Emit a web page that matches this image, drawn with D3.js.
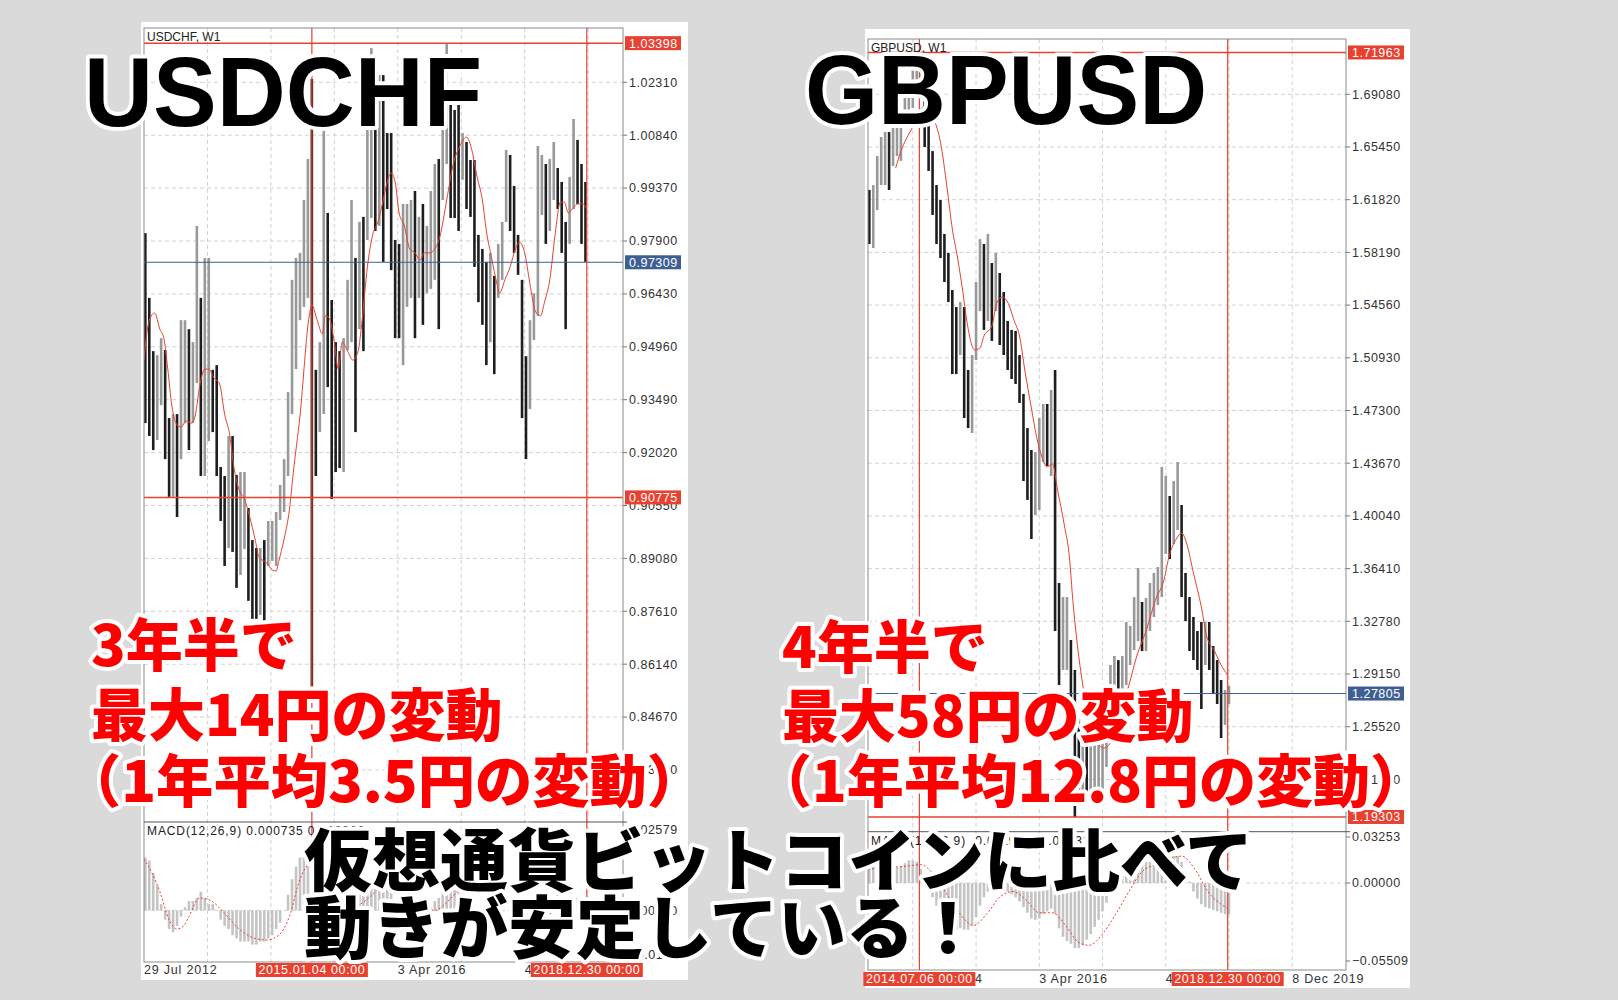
<!DOCTYPE html>
<html>
<head>
<meta charset="utf-8">
<script src="https://cdnjs.cloudflare.com/ajax/libs/d3/7.8.5/d3.min.js"></script>
<style>
  body { margin: 0; background: #dadada; }
  svg { display: block; }
  .axis-label { font-family: "Liberation Sans", Arial, sans-serif; font-size: 12.5px; fill: #333; letter-spacing: 0.5px; }
</style>
</head>
<body>
<div id="div_chart"></div>
<script>
var width = 1618, height = 1000;
var WEEK = 7 * 24 * 3600 * 1000;
var parseDay = d3.utcParse("%Y-%m-%d");

// USDCHF, 3-week bars from 29 Jul 2012 (high / low)
var usdchfStart = "2012-07-29";
var usdchfHigh = [0.9812,0.9632,0.9484,0.9473,0.9520,0.9487,0.9298,0.9309,0.9309,0.9570,
  0.9570,0.9545,0.9509,0.9832,0.9632,0.9743,0.9743,0.9432,0.9445,0.9162,
  0.9137,0.9248,0.9248,0.9140,0.9148,0.9148,0.9048,0.8959,0.8937,0.8937,
  0.8959,0.9012,0.9012,0.9037,0.9112,0.9184,0.9370,0.9682,0.9743,0.9757,
  0.9904,1.0018,1.0240,0.9432,0.9509,1.0140,0.9868,0.9626,0.9509,0.9484,
  0.9520,0.9682,0.9904,0.9743,0.9843,0.9857,1.0104,1.0326,1.0115,1.0251,
  1.0251,1.0090,1.0090,0.9793,0.9782,0.9893,0.9893,0.9904,0.9929,0.9857,
  0.9893,0.9832,0.9929,1.0004,1.0018,1.0115,1.0340,1.0179,1.0154,1.0179,
  1.0090,1.0065,1.0015,1.0015,0.9807,0.9768,0.9732,0.9757,0.9693,0.9782,
  0.9843,1.0043,1.0029,0.9943,0.9807,0.9682,0.9470,0.9570,0.9645,1.0054,
  1.0029,1.0004,1.0018,1.0065,0.9993,0.9954,0.9843,0.9968,1.0129,1.0071,
  1.0004,0.9954];
var usdchfLow = [0.9284,0.9248,0.9209,0.9237,0.9334,0.9184,0.9079,0.9079,0.9023,0.9184,
  0.9284,0.9209,0.9284,0.9395,0.9137,0.9137,0.9234,0.9259,0.9137,0.9012,
  0.8887,0.8937,0.8926,0.8826,0.8862,0.8934,0.8790,0.8740,0.8740,0.8751,
  0.8726,0.8887,0.8901,0.8887,0.9015,0.9037,0.9137,0.9309,0.9434,0.9570,
  0.9607,0.9632,0.8553,0.9137,0.9259,0.9309,0.9384,0.9073,0.9148,0.9159,
  0.9148,0.9487,0.9509,0.9259,0.9545,0.9484,0.9793,0.9854,0.9818,0.9832,
  0.9732,0.9879,0.9709,0.9520,0.9520,0.9445,0.9607,0.9632,0.9520,0.9632,
  0.9557,0.9645,0.9657,0.9682,0.9545,0.9904,1.0004,0.9854,0.9854,0.9818,
  0.9960,0.9879,0.9857,0.9718,0.9620,0.9557,0.9445,0.9509,0.9420,0.9632,
  0.9682,0.9843,0.9818,0.9757,0.9696,0.9298,0.9184,0.9323,0.9515,0.9582,
  0.9862,0.9782,0.9818,0.9904,0.9879,0.9757,0.9545,0.9782,0.9879,0.9893,
  0.9782,0.9732];
// red moving average: [week since start, price]
var usdchfMa = [[0,0.9459],[4,0.9570],[8,0.9590],[12,0.9545],[15,0.9520],[18,0.9434],[21,0.9334],
  [25,0.9279],[28,0.9273],[32,0.9290],[36,0.9284],[39,0.9309],[42,0.9384],[46,0.9434],[49,0.9434],
  [53,0.9409],[57,0.9395],[61,0.9309],[65,0.9248],[68,0.9162],[72,0.9098],[76,0.9073],[80,0.9023],
  [84,0.8962],[87,0.8912],[93,0.8895],[97,0.8876],[100,0.8873],[102,0.8901],[106,0.8962],[110,0.9043],
  [113,0.9148],[118,0.9304],[125,0.9582],[127,0.9612],[131,0.9570],[135,0.9532],[137,0.9582],
  [140,0.9576],[144,0.9509],[147,0.9434],[150,0.9509],[154,0.9484],[158,0.9459],[162,0.9484],
  [165,0.9570],[169,0.9718],[173,0.9807],[177,0.9843],[181,0.9904],[184,0.9954],[187,0.9979],
  [190,0.9954],[193,0.9868],[197,0.9832],[201,0.9768],[205,0.9757],[209,0.9737],[212,0.9757],
  [216,0.9757],[220,0.9768],[224,0.9804],[229,0.9904],[234,1.0004],[239,1.0054],[244,1.0079],
  [248,1.0043],[252,0.9968],[256,0.9904],[259,0.9818],[263,0.9743],[267,0.9671],[269,0.9645],
  [273,0.9682],[277,0.9718],[281,0.9768],[284,0.9787],[288,0.9757],[292,0.9671],[296,0.9595],
  [300,0.9582],[303,0.9620],[307,0.9682],[311,0.9807],[315,0.9898],[318,0.9898],[321,0.9868],
  [324,0.9879],[328,0.9893],[332,0.9893],[335,0.9879]];
var usdchfMacd = [0.017,0.016,0.012,0.008,0.002,-0.003,-0.006,-0.007,-0.005,-0.002,
  0.001,0.003,0.003,0.004,0.006,0.004,0.002,0.002,0.000,-0.003,
  -0.005,-0.006,-0.008,-0.009,-0.010,-0.010,-0.010,-0.011,-0.011,-0.010,
  -0.010,-0.009,-0.008,-0.006,-0.004,0.000,0.005,0.010,0.014,0.017,
  0.019,0.020,0.014,0.004,-0.002,0.000,0.002,-0.002,-0.004,-0.004,
  -0.003,0.000,0.003,0.003,0.005,0.006,0.008,0.010,0.010,0.011,
  0.010,0.009,0.007,0.003,0.001,0.000,-0.001,-0.001,-0.001,-0.001,
  0.000,0.000,0.001,0.003,0.004,0.006,0.008,0.009,0.009,0.008,
  0.007,0.005,0.003,0.000,-0.003,-0.005,-0.006,-0.007,-0.007,-0.005,
  -0.003,0.000,0.002,0.002,0.001,-0.002,-0.005,-0.007,-0.006,-0.003,
  0.000,0.002,0.003,0.004,0.005,0.004,0.003,0.003,0.004,0.004,
  0.003,0.001];
var usdchfSignal = [[0,0.0165],[6,0.012],[12,0.006],[19,-0.003],[25,-0.006],[30,-0.005],[34,-0.002],
  [42,0.004],[51,0.003],[61,-0.001],[72,-0.006],[84,-0.009],[93,-0.0095],[102,-0.008],[110,-0.002],
  [118,0.010],[126,0.015],[132,0.010],[140,0.004],[150,0.000],[160,0.001],[170,0.004],[180,0.008],
  [190,0.010],[200,0.006],[210,0.001],[220,0.000],[230,0.003],[240,0.007],[250,0.008],[260,0.003],
  [270,-0.004],[280,-0.002],[290,0.001],[300,-0.004],[310,0.000],[320,0.003],[335,0.004]];
var usdchfTicks = [1.02310,1.00840,0.99370,0.97900,0.96430,0.94960,0.93490,0.92020,0.90550,
  0.89080,0.87610,0.86140,0.84670,0.83200];
var usdchfMacdTicks = [0.02579,0.00000,-0.01433];
var usdchfLevels = [1.03398,0.90775];
var usdchfLast = 0.97309;
var usdchfMarks = ["2015-01-04","2018-12-30"];
var usdchfDates = [["2012-07-29","29 Jul 2012"],["2014-06-01","1 Jun 2014"],["2016-04-03","3 Apr 2016"],["2018-02-04","4 Feb 2018"]];

// GBPUSD, 3-week bars from 6 Oct 2013
var gbpusdStart = "2013-10-06";
var gbpusdHigh = [1.6249,1.6283,1.6483,1.6614,1.6648,1.6648,1.6683,1.6717,1.6800,1.6924,
  1.7007,1.7103,1.7196,1.7179,1.6903,1.6717,1.6517,1.6283,1.6180,1.5946,
  1.5815,1.5560,1.5443,1.5477,1.5443,1.5009,1.5112,1.5615,1.5911,1.5877,
  1.5946,1.5746,1.5815,1.5677,1.5546,1.5347,1.5285,1.5278,1.5112,1.4844,
  1.4609,1.4458,1.4444,1.4678,1.4775,1.4775,1.4871,1.5009,1.3542,1.3445,
  1.3445,1.3149,1.2943,1.2605,1.2564,1.2509,1.2474,1.2529,1.2578,1.2543,
  1.2605,1.2977,1.3039,1.3011,1.3039,1.3273,1.3246,1.3445,1.3645,1.3411,
  1.3438,1.3542,1.3611,1.3652,1.4341,1.4279,1.4141,1.4244,1.4375,1.4079,
  1.3611,1.3445,1.3308,1.3211,1.3273,1.3273,1.3273,1.3108,1.3011,1.2874,
  1.2805,1.2832];
var gbpusdLow = [1.5877,1.5849,1.6111,1.6283,1.6283,1.6249,1.6414,1.6483,1.6449,1.6786,
  1.6800,1.6814,1.6938,1.6903,1.6545,1.6380,1.6077,1.5877,1.5780,1.5615,
  1.5477,1.4981,1.4981,1.5112,1.4678,1.4609,1.4575,1.5078,1.5415,1.5285,
  1.5347,1.5209,1.5415,1.5181,1.5112,1.5009,1.4947,1.4913,1.4782,1.4244,
  1.4114,1.3845,1.4010,1.4045,1.4375,1.4348,1.4279,1.3211,1.2839,1.2943,
  1.2943,1.2736,1.1930,1.2075,1.2116,1.2040,1.2116,1.2090,1.2060,1.2100,
  1.2274,1.2605,1.2805,1.2805,1.2805,1.2839,1.2977,1.3080,1.3142,1.3073,
  1.3073,1.3211,1.3308,1.3390,1.3445,1.3742,1.3707,1.3810,1.3907,1.3445,
  1.3280,1.3073,1.3011,1.2943,1.2674,1.2977,1.2943,1.2777,1.2708,1.2474,
  1.2564,1.2708];
var gbpusdMa = [[21,1.6400],[25,1.6517],[29,1.6600],[34,1.6683],[41,1.6814],[50,1.6731],[55,1.6579],
  [60,1.6263],[64,1.5980],[68,1.5780],[72,1.5546],[75,1.5347],[81,1.5147],[85,1.5161],[88,1.5243],
  [94,1.5312],[98,1.5477],[102,1.5512],[106,1.5477],[111,1.5347],[115,1.5243],[119,1.5009],
  [124,1.4747],[128,1.4547],[132,1.4410],[136,1.4341],[140,1.4362],[144,1.4176],[149,1.3941],
  [153,1.3707],[155,1.3473],[159,1.3108],[163,1.2839],[166,1.2674],[173,1.2460],[179,1.2405],
  [184,1.2440],[189,1.2605],[197,1.2805],[204,1.3039],[211,1.3211],[219,1.3445],[224,1.3542],
  [229,1.3742],[234,1.3845],[238,1.3886],[242,1.3810],[247,1.3611],[253,1.3377],[257,1.3177],
  [263,1.3073],[268,1.2977],[273,1.2908]];
var gbpusdMacd = [0.012,0.012,0.014,0.015,0.014,0.012,0.012,0.011,0.012,0.014,
  0.016,0.016,0.015,0.010,0.004,-0.003,-0.010,-0.016,-0.022,-0.026,
  -0.030,-0.033,-0.033,-0.032,-0.033,-0.033,-0.030,-0.024,-0.016,-0.010,
  -0.006,-0.004,-0.003,-0.003,-0.004,-0.006,-0.008,-0.010,-0.013,-0.017,
  -0.021,-0.025,-0.026,-0.025,-0.022,-0.020,-0.018,-0.022,-0.032,-0.038,
  -0.041,-0.043,-0.046,-0.046,-0.044,-0.040,-0.036,-0.031,-0.026,-0.020,
  -0.014,-0.008,-0.002,0.002,0.005,0.008,0.010,0.013,0.016,0.016,
  0.015,0.015,0.016,0.017,0.020,0.021,0.020,0.019,0.019,0.015,
  0.008,0.001,-0.006,-0.011,-0.015,-0.017,-0.018,-0.019,-0.020,-0.021,
  -0.022,-0.022];
var gbpusdSignal = [[0,0.010],[30,0.012],[40,0.013],[50,0.006],[60,-0.008],[70,-0.022],[80,-0.030],
  [90,-0.022],[100,-0.010],[110,-0.006],[120,-0.012],[130,-0.021],[140,-0.021],[150,-0.030],
  [160,-0.042],[168,-0.044],[178,-0.036],[188,-0.022],[198,-0.006],[208,0.008],[218,0.013],
  [228,0.017],[238,0.019],[248,0.010],[258,-0.006],[268,-0.015],[273,-0.018]];
var gbpusdTicks = [1.69080,1.65450,1.61820,1.58190,1.54560,1.50930,1.47300,1.43670,1.40040,
  1.36410,1.32780,1.29150,1.25520,1.21890];
var gbpusdMacdTicks = [0.03253,0.00000,-0.05509];
var gbpusdLevels = [1.71963,1.19303];
var gbpusdLast = 1.27805;
var gbpusdMarks = ["2014-07-06","2018-12-30"];
var gbpusdDates = [["2014-06-01","1 Jun 2014"],["2016-04-03","3 Apr 2016"],["2018-02-04","4 Feb 2018"],["2019-12-08","8 Dec 2019"]];

var svg = d3.select("#div_chart").append("svg")
  .attr("width", width)
  .attr("height", height);

var fmt = d3.format(".5f");
var markFmt = d3.utcFormat("%Y.%m.%d 00:00");

function drawChart(c) {
  var g = svg.append("g");
  g.append("rect")
    .attr("x", c.panel[0]).attr("y", c.panel[1])
    .attr("width", c.panel[2]).attr("height", c.panel[3])
    .attr("fill", "#fff");

  var t0 = parseDay(c.start);
  var x = d3.scaleUtc()
    .domain([t0, parseDay("2018-12-30")])
    .range([c.left, c.endX]);
  var y = d3.scaleLinear().domain(c.yDomain).range([c.sep, c.top]);
  var ym = d3.scaleLinear().domain(c.mDomain).range(c.mRange);
  var wk = function(w) { return x(new Date(+t0 + w * WEEK)); };

  var clipId = "clip-" + c.name;
  g.append("clipPath").attr("id", clipId)
    .append("rect").attr("x", c.left).attr("y", c.top)
    .attr("width", c.right - c.left).attr("height", c.bottom - c.top);
  var plot = g.append("g").attr("clip-path", "url(#" + clipId + ")");

  // grid
  var gridDates = d3.range(-2, 10).map(function(k) { return new Date(+parseDay(c.gridStart) + k * 48 * WEEK); })
    .filter(function(d) { return x(d) > c.left + 2 && x(d) < c.right - 2; });
  plot.selectAll(".vgrid").data(gridDates).enter().append("line")
    .attr("x1", function(d) { return x(d); }).attr("x2", function(d) { return x(d); })
    .attr("y1", c.top).attr("y2", c.bottom)
    .attr("stroke", "#d2d2d2").attr("stroke-dasharray", "4,3");
  plot.selectAll(".hgrid").data(c.ticks).enter().append("line")
    .attr("x1", c.left).attr("x2", c.right)
    .attr("y1", function(d) { return y(d); }).attr("y2", function(d) { return y(d); })
    .attr("stroke", "#d2d2d2").attr("stroke-dasharray", "4,3");
  plot.append("line")
    .attr("x1", c.left).attr("x2", c.right)
    .attr("y1", ym(0)).attr("y2", ym(0))
    .attr("stroke", "#d2d2d2").attr("stroke-dasharray", "4,3");

  // MACD histogram and signal
  plot.selectAll(".macd").data(c.macd).enter().append("line")
    .attr("x1", function(d, i) { return wk(3 * i + 1); })
    .attr("x2", function(d, i) { return wk(3 * i + 1); })
    .attr("y1", ym(0))
    .attr("y2", function(d) { return ym(d); })
    .attr("stroke", "#c4c4c4").attr("stroke-width", 2.6);
  plot.append("path")
    .datum(c.signal)
    .attr("d", d3.line().curve(d3.curveMonotoneX)
      .x(function(d) { return wk(d[0]); })
      .y(function(d) { return ym(d[1]); }))
    .attr("fill", "none").attr("stroke", "#e8412f").attr("stroke-width", 1)
    .attr("stroke-dasharray", "2,2");

  // price bars
  var mids = c.high.map(function(h, i) { return (h + c.low[i]) / 2; });
  plot.selectAll(".bar").data(c.high).enter().append("line")
    .attr("x1", function(d, i) { return wk(3 * i + 1); })
    .attr("x2", function(d, i) { return wk(3 * i + 1); })
    .attr("y1", function(d) { return y(d); })
    .attr("y2", function(d, i) { return y(c.low[i]); })
    .attr("stroke", function(d, i) { return (i > 0 && mids[i] >= mids[i - 1]) ? "#999" : "#1e1e1e"; })
    .attr("stroke-width", 2.6);

  plot.append("path")
    .datum(c.ma)
    .attr("d", d3.line().curve(d3.curveMonotoneX)
      .x(function(d) { return wk(d[0]); })
      .y(function(d) { return y(d[1]); }))
    .attr("fill", "none").attr("stroke", "#e8412f").attr("stroke-width", 1);

  // level lines
  plot.selectAll(".level").data(c.levels).enter().append("line")
    .attr("x1", c.left).attr("x2", c.right)
    .attr("y1", function(d) { return y(d); }).attr("y2", function(d) { return y(d); })
    .attr("stroke", "#e8412f").attr("stroke-width", 1.5);
  plot.append("line")
    .attr("x1", c.left).attr("x2", c.right)
    .attr("y1", y(c.last)).attr("y2", y(c.last))
    .attr("stroke", "#3d5f94").attr("stroke-width", 1);
  plot.selectAll(".mark").data(c.marks).enter().append("line")
    .attr("x1", function(d) { return x(parseDay(d)); }).attr("x2", function(d) { return x(parseDay(d)); })
    .attr("y1", c.top).attr("y2", c.bottom)
    .attr("stroke", "#e8412f").attr("stroke-width", 1.2);

  // frame
  g.append("rect")
    .attr("x", c.left).attr("y", c.top)
    .attr("width", c.right - c.left).attr("height", c.bottom - c.top)
    .attr("fill", "none").attr("stroke", "#8a8a8a");
  g.append("line")
    .attr("x1", c.left).attr("x2", c.right + 4)
    .attr("y1", c.sep).attr("y2", c.sep)
    .attr("stroke", "#555");

  // price axis
  var axisTicks = c.ticks.map(function(v) { return {y: y(v), t: fmt(v)}; })
    .concat(c.macdTicks.map(function(v) { return {y: ym(v), t: fmt(v)}; }));
  g.selectAll(".ytick").data(axisTicks).enter().append("line")
    .attr("x1", c.right).attr("x2", c.right + 4)
    .attr("y1", function(d) { return d.y; }).attr("y2", function(d) { return d.y; })
    .attr("stroke", "#777");
  g.selectAll(".ylab").data(axisTicks).enter().append("text")
    .attr("class", "axis-label")
    .attr("x", c.right + 6)
    .attr("y", function(d) { return d.y; })
    .attr("dy", "0.35em")
    .text(function(d) { return d.t; });

  var boxes = c.levels.map(function(v) { return {v: v, fill: "#e8412f"}; })
    .concat([{v: c.last, fill: "#3d5f94"}]);
  boxes.forEach(function(b) {
    g.append("rect")
      .attr("x", c.right + 2).attr("y", y(b.v) - 7)
      .attr("width", 56).attr("height", 14)
      .attr("fill", b.fill);
    g.append("text").attr("class", "axis-label")
      .attr("x", c.right + 6).attr("y", y(b.v)).attr("dy", "0.35em")
      .style("fill", "#fff")
      .text(fmt(b.v));
  });

  // time axis
  g.selectAll(".xlab").data(c.dates).enter().append("text")
    .attr("class", "axis-label")
    .attr("x", function(d) { return x(parseDay(d[0])); })
    .attr("y", c.dateY)
    .style("letter-spacing", "0.8px")
    .text(function(d) { return d[1]; });
  c.marks.forEach(function(m) {
    var mx = x(parseDay(m));
    g.append("rect")
      .attr("x", mx - 56).attr("y", c.dateY - 11)
      .attr("width", 112).attr("height", 14)
      .attr("fill", "#e8412f");
    g.append("text").attr("class", "axis-label")
      .attr("x", mx).attr("y", c.dateY)
      .attr("text-anchor", "middle")
      .style("fill", "#fff").style("letter-spacing", "0.6px")
      .text(markFmt(parseDay(m)));
  });

  // titles
  g.append("text")
    .attr("x", c.left + 3).attr("y", c.top + 13)
    .attr("font-family", "Liberation Sans, Arial, sans-serif")
    .attr("font-size", 12).attr("fill", "#222")
    .text(c.title);
  g.append("text")
    .attr("x", c.left + 3).attr("y", c.sep + 13)
    .attr("font-family", "Liberation Sans, Arial, sans-serif")
    .attr("font-size", 12).attr("fill", "#222")
    .style("letter-spacing", "0.9px")
    .text(c.macdTitle);
}

drawChart({
  name: "usdchf", title: "USDCHF, W1", macdTitle: "MACD(12,26,9) 0.000735 0.003966",
  panel: [141, 22, 547, 958],
  left: 144, right: 623, top: 28, sep: 822, bottom: 962, endX: 586.8, dateY: 974,
  start: usdchfStart, gridStart: "2012-07-29",
  yDomain: [0.81755, 1.03819], mDomain: [-0.01433, 0.02579], mRange: [955, 830],
  high: usdchfHigh, low: usdchfLow, ma: usdchfMa, macd: usdchfMacd, signal: usdchfSignal,
  ticks: usdchfTicks, macdTicks: usdchfMacdTicks, levels: usdchfLevels, last: usdchfLast,
  marks: usdchfMarks, dates: usdchfDates
});

drawChart({
  name: "gbpusd", title: "GBPUSD, W1", macdTitle: "MACD(12,26,9) -0.011992 -0.014318",
  panel: [865, 29, 545, 959],
  left: 868, right: 1346, top: 39, sep: 831.7, bottom: 970, endX: 1227.7, dateY: 983,
  start: gbpusdStart, gridStart: "2014-06-01",
  yDomain: [1.18288, 1.72889], mDomain: [-0.05509, 0.03253], mRange: [961, 837],
  high: gbpusdHigh, low: gbpusdLow, ma: gbpusdMa, macd: gbpusdMacd, signal: gbpusdSignal,
  ticks: gbpusdTicks, macdTicks: gbpusdMacdTicks, levels: gbpusdLevels, last: gbpusdLast,
  marks: gbpusdMarks, dates: gbpusdDates
});

// overlay captions
var captions = [
  {t: "USDCHF", x: 84, y: 126, size: 99, len: 398, fill: "#000", font: "Liberation Sans, Arial, sans-serif"},
  {t: "GBPUSD", x: 805, y: 124, size: 98, len: 402, fill: "#000", font: "Liberation Sans, Arial, sans-serif"},
  {t: "3年半で", x: 91, y: 666, size: 57, fill: "#ff0000"},
  {t: "最大14円の変動", x: 91, y: 736, size: 57, fill: "#ff0000"},
  {t: "（1年平均3.5円の変動）", x: 64, y: 802, size: 57, len: 640, fill: "#ff0000"},
  {t: "4年半で", x: 782, y: 668, size: 57, fill: "#ff0000"},
  {t: "最大58円の変動", x: 782, y: 737, size: 57, fill: "#ff0000"},
  {t: "（1年平均12.8円の変動）", x: 755, y: 802, size: 57, len: 672, fill: "#ff0000"},
  {t: "仮想通貨ビットコインに比べて", x: 304, y: 886, size: 68, fill: "#000"},
  {t: "動きが安定している！", x: 304, y: 953, size: 68, fill: "#000"}
];
svg.selectAll(".caption").data(captions).enter().append("text")
  .attr("x", function(d) { return d.x; })
  .attr("y", function(d) { return d.y; })
  .attr("font-family", function(d) { return d.font || "Noto Sans CJK JP, sans-serif"; })
  .attr("font-weight", function(d) { return d.font ? 700 : 900; })
  .attr("font-size", function(d) { return d.size; })
  .attr("textLength", function(d) { return d.len || null; })
  .attr("lengthAdjust", "spacingAndGlyphs")
  .attr("fill", function(d) { return d.fill; })
  .attr("stroke", "#fff")
  .attr("stroke-width", 8)
  .attr("stroke-linejoin", "round")
  .attr("paint-order", "stroke")
  .text(function(d) { return d.t; });
</script>
</body>
</html>
